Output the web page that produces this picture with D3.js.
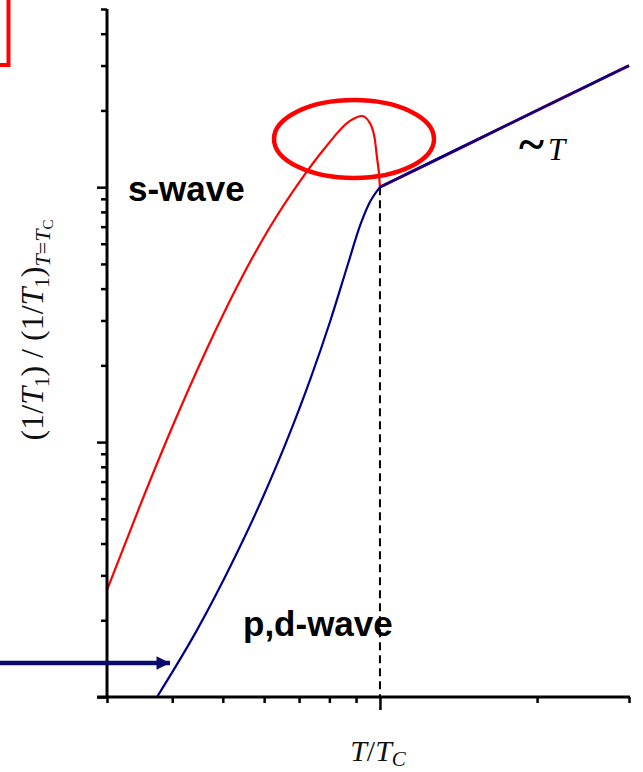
<!DOCTYPE html>
<html><head><meta charset="utf-8">
<script src="https://cdn.jsdelivr.net/npm/d3@7/dist/d3.min.js"></script>
<style>html,body{margin:0;padding:0;background:#fff;}svg{display:block;}</style>
</head><body>
<svg id="c" width="643" height="772"></svg>
<script>
// s-wave (red) curve: T/Tc and normalized 1/T1
const sWaveT = [0.30,0.3469,0.3978,0.4622,0.5393,0.6157,0.7030,0.7845,0.8760,0.9237,0.9569,0.9782,0.9869,0.9956,1.0];
const sWaveV = [0.0263,0.0562,0.1115,0.2237,0.4286,0.6980,1.057,1.425,1.819,1.902,1.782,1.529,1.311,1.135,1.0];
// p,d-wave (blue) curve
const pdWaveT = [0.3740,0.4461,0.5204,0.5970,0.6755,0.7344,0.8021,0.8685,0.9155,0.9526,1.0];
const pdWaveV = [0.01,0.0183,0.0335,0.0609,0.1114,0.1751,0.2959,0.4997,0.7045,0.8592,1.0];
// normal state ~T
const normalT = [1.0,1.5,2.0,2.5,3.0];
const normalV = [1.0,1.5,2.0,2.5,3.0];
// ticks
const xMinorTicks = [0.3,0.4,0.5,0.6,0.7,0.8,0.9,2,3];
const xMajorTicks = [1];
const yMinorTicks = [0.02,0.03,0.04,0.05,0.06,0.07,0.08,0.09,0.2,0.3,0.4,0.5,0.6,0.7,0.8,0.9,2,3,4,5];
const yMajorTicks = [0.01,0.1,1];
const Tc = 1;

const svg = d3.select("#c");
const x = d3.scaleLog().domain([0.3, 3]).range([107, 629]);
const y = d3.scaleLog().domain([0.01, 5]).range([697, 9]);

// red box fragment top-left
svg.append("rect").attr("x",-40).attr("y",-40).attr("width",48.5).attr("height",105)
  .attr("fill","none").attr("stroke","#ff0000").attr("stroke-width",4);

// dashed Tc line
svg.append("line").attr("x1",x(Tc)).attr("x2",x(Tc)).attr("y1",y(1)).attr("y2",y(0.01))
  .attr("stroke","#000").attr("stroke-width",2).attr("stroke-dasharray","8,5");

const line = d3.line().x(d=>x(d[0])).y(d=>y(d[1])).curve(d3.curveMonotoneX);
const sData = sWaveT.map((t,i)=>[t,sWaveV[i]]);
const pData = pdWaveT.map((t,i)=>[t,pdWaveV[i]]);
const nData = normalT.map((t,i)=>[t,normalV[i]]);

svg.append("path").attr("d",line(sData)).attr("fill","none").attr("stroke","#ff0000").attr("stroke-width",2.2);
svg.append("path").attr("d",line(nData)).attr("fill","none").attr("stroke","#ff0000").attr("stroke-width",3);
svg.append("path").attr("d",line(pData)).attr("fill","none").attr("stroke","#00008b").attr("stroke-width",2.2);
svg.append("path").attr("d",line(nData)).attr("fill","none").attr("stroke","#00008b").attr("stroke-width",2.6);

// axes
function styleAxis(g){
  g.select(".domain").remove();
  g.selectAll(".tick line").attr("stroke","#000").attr("stroke-width",2.5);
  g.selectAll(".tick text").remove();
}
svg.append("g").attr("transform","translate(107,0)")
  .call(d3.axisLeft(y).tickValues(yMinorTicks).tickSize(6).tickFormat("")).call(styleAxis);
svg.append("g").attr("transform","translate(107,0)")
  .call(d3.axisLeft(y).tickValues(yMajorTicks).tickSize(10).tickFormat("")).call(styleAxis);
svg.append("g").attr("transform","translate(0,697)")
  .call(d3.axisBottom(x).tickValues(xMinorTicks).tickSize(6).tickFormat("")).call(styleAxis);
svg.append("g").attr("transform","translate(0,697)")
  .call(d3.axisBottom(x).tickValues(xMajorTicks).tickSize(13).tickFormat("")).call(styleAxis);
svg.append("line").attr("x1",107).attr("x2",107).attr("y1",y(5)).attr("y2",698.5).attr("stroke","#000").attr("stroke-width",3);
svg.append("line").attr("x1",97).attr("x2",630).attr("y1",697).attr("y2",697).attr("stroke","#000").attr("stroke-width",3);

// ellipse highlight
svg.append("ellipse").attr("cx",354).attr("cy",139).attr("rx",80).attr("ry",39)
  .attr("fill","none").attr("stroke","#ff0000").attr("stroke-width",4.5);

// arrow
svg.append("defs").append("marker").attr("id","ah").attr("viewBox","0 0 10 10")
  .attr("refX",10).attr("refY",5).attr("markerWidth",3.4).attr("markerHeight",3).attr("markerUnits","strokeWidth")
  .attr("orient","auto").append("path").attr("d","M0,0L10,5L0,10Z").attr("fill","#0a0a6e");
svg.append("line").attr("x1",-5).attr("x2",170).attr("y1",663).attr("y2",663)
  .attr("stroke","#0a0a6e").attr("stroke-width",4.5).attr("marker-end","url(#ah)");

// labels
svg.append("text").attr("x",128).attr("y",201).attr("font-family","Liberation Sans, Arial, sans-serif")
  .attr("font-weight","bold").attr("font-size",35).attr("fill","#000").text("s-wave");
svg.append("text").attr("x",243).attr("y",636).attr("font-family","Liberation Sans, Arial, sans-serif")
  .attr("font-weight","bold").attr("font-size",35).attr("fill","#000").text("p,d-wave");

const tl = svg.append("text").attr("x",519).attr("y",160).attr("font-family","Liberation Serif, Times New Roman, serif").attr("fill","#000");
tl.append("tspan").attr("font-weight","bold").attr("font-size",48).text("~");
tl.append("tspan").attr("font-style","italic").attr("font-size",31).attr("dx",4).text("T");

const xl = svg.append("text").attr("x",378).attr("y",761).attr("text-anchor","middle")
  .attr("font-family","Liberation Serif, Times New Roman, serif").attr("font-size",30).attr("fill","#111");
xl.append("tspan").attr("font-style","italic").text("T");
xl.append("tspan").text("/");
xl.append("tspan").attr("font-style","italic").text("T");
xl.append("tspan").attr("font-style","italic").attr("font-size",21).attr("dy",5).text("C");

const yl = svg.append("text").attr("transform","translate(43,330) rotate(-90)").attr("text-anchor","middle")
  .attr("font-family","Liberation Serif, Times New Roman, serif").attr("font-size",32).attr("fill","#111");
yl.append("tspan").text("(1/");
yl.append("tspan").attr("font-style","italic").text("T");
yl.append("tspan").attr("font-size",21).attr("dy",6).text("1");
yl.append("tspan").attr("dy",-6).text(") / (1/");
yl.append("tspan").attr("font-style","italic").text("T");
yl.append("tspan").attr("font-size",21).attr("dy",6).text("1");
yl.append("tspan").attr("dy",-6).text(")");
yl.append("tspan").attr("font-size",22).attr("font-style","italic").attr("dy",7).text("T");
yl.append("tspan").attr("font-size",22).text("=");
yl.append("tspan").attr("font-size",22).attr("font-style","italic").text("T");
yl.append("tspan").attr("font-size",15).attr("dy",3).text("C");
</script>
</body></html>
